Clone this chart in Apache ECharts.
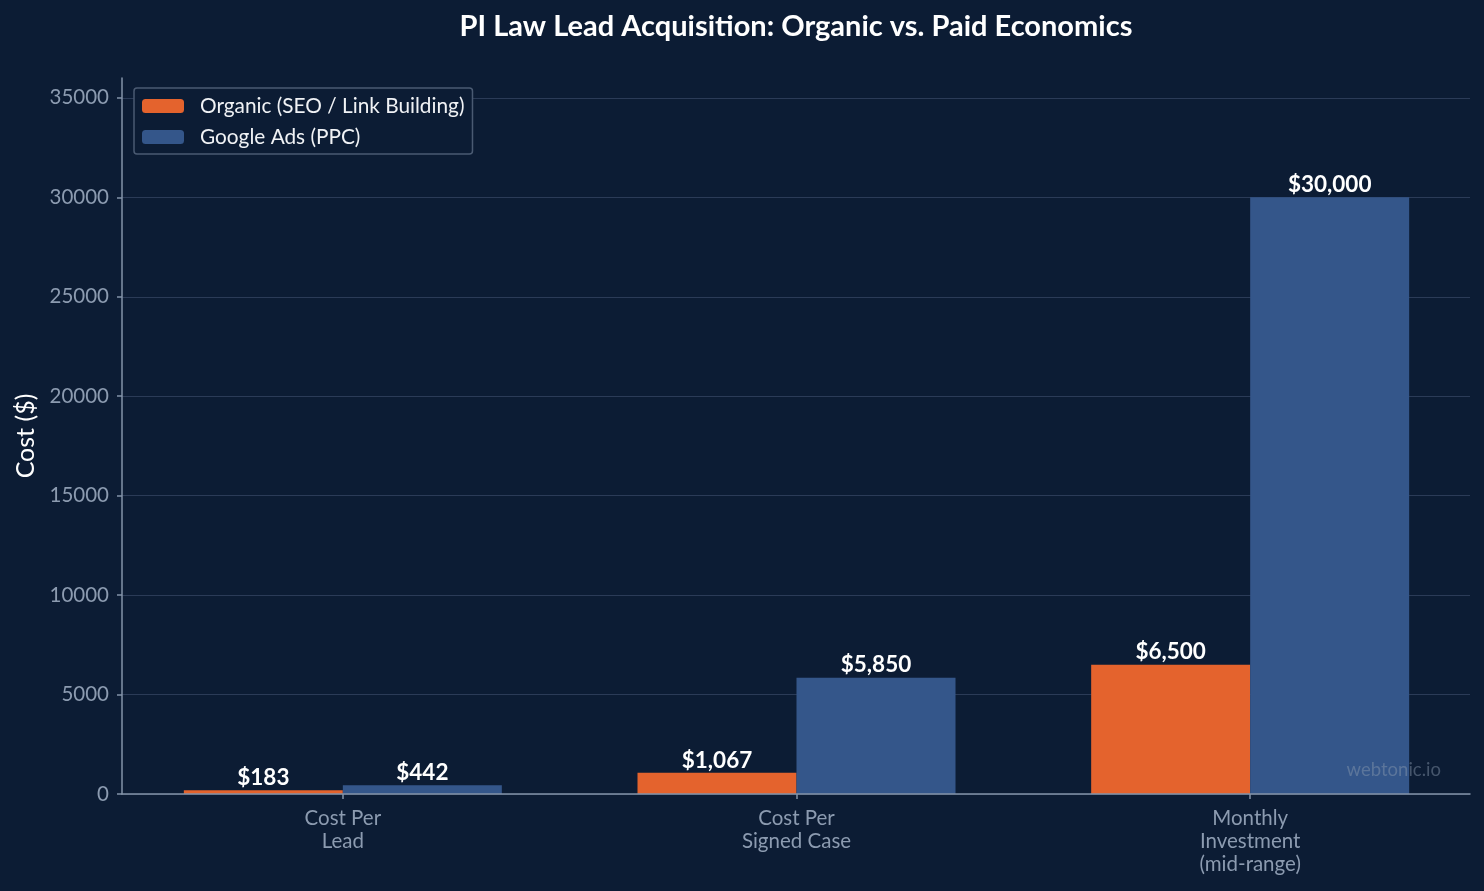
<!DOCTYPE html>
<html>
<head>
<meta charset="utf-8">
<script src="https://cdn.jsdelivr.net/npm/echarts@6/dist/echarts.min.js"></script>
<style>
html,body{margin:0;padding:0;background:#0c1c34;}
#chart{width:1484px;height:891px;}
</style>
</head>
<body>
<div id="chart"></div>
<script>
var categories = ['Cost Per\nLead', 'Cost Per\nSigned Case', 'Monthly\nInvestment\n(mid-range)'];
var organicValues = [183, 1067, 6500];
var ppcValues = [442, 5850, 30000];
var seriesNames = ['Organic (SEO / Link Building)', 'Google Ads (PPC)'];
var yMax = 36000;
var yTickMax = 35000;
var yInterval = 5000;

var FONT = 'Lato, "DejaVu Sans", sans-serif';
var chart = echarts.init(document.getElementById('chart'));

function fmt(v) { return '$' + v.toLocaleString('en-US'); }

var AXIS_COLOR = '#8393a8';
var TICK_TEXT = '#8c9bb0';
var gTop = 78, gBottom = 97;
var plotH = 891 - gTop - gBottom;
var top2 = 891 - gBottom - plotH * yTickMax / yMax;

var barLabel = {
  show: true, position: 'top', distance: 1,
  formatter: function (p) { return fmt(p.value); },
  color: '#ffffff', fontFamily: FONT, fontSize: 22.5, fontWeight: 'bold'
};

var option = {
  backgroundColor: '#0c1c34',
  animation: false,
  legend: {
    orient: 'vertical', left: 134, top: 88,
    data: seriesNames,
    itemWidth: 42, itemHeight: 14, itemGap: 9,
    padding: [7, 8, 6, 8],
    backgroundColor: '#0c1c34',
    borderColor: '#4a5a72', borderWidth: 1.5, borderRadius: 3,
    textStyle: { color: '#f0f2f5', fontFamily: FONT, fontSize: 20.8, lineHeight: 22, padding: [0, 0, 0, 11] }
  },
  grid: [
    { left: 122, right: 14, top: gTop, bottom: gBottom },
    { left: 116, right: 7, top: gTop, bottom: gBottom },
    { left: 122, right: 14, top: top2, bottom: gBottom }
  ],
  xAxis: [
    {
      type: 'category', gridIndex: 0, data: categories, z: 5,
      axisLine: { show: true, lineStyle: { color: AXIS_COLOR, width: 1.5 } },
      axisTick: { show: false }, axisLabel: { show: false }, splitLine: { show: false }
    },
    {
      type: 'category', gridIndex: 1, data: categories,
      axisLine: { show: false },
      axisTick: { show: true, alignWithLabel: true, length: 5, lineStyle: { color: AXIS_COLOR, width: 1.5 } },
      axisLabel: { color: TICK_TEXT, fontFamily: FONT, fontSize: 20.5, lineHeight: 23, margin: 13 },
      splitLine: { show: false }
    },
    { type: 'category', gridIndex: 2, data: categories, show: false }
  ],
  yAxis: [
    {
      type: 'value', gridIndex: 0, min: 0, max: yMax, z: 5,
      name: 'Cost ($)', nameLocation: 'middle', nameGap: 84, nameRotate: 90,
      nameTextStyle: { color: '#ffffff', fontFamily: FONT, fontSize: 25 },
      axisLine: { show: true, lineStyle: { color: AXIS_COLOR, width: 1.5 } },
      axisTick: { show: false }, axisLabel: { show: false }, splitLine: { show: false }
    },
    {
      type: 'value', gridIndex: 1, min: 0, max: yMax, show: false,
      splitLine: { show: false }
    },
    {
      type: 'value', gridIndex: 2, min: 0, max: yTickMax, interval: yInterval,
      axisLine: { show: false },
      axisTick: { show: true, length: 5, inside: false, lineStyle: { color: AXIS_COLOR, width: 1.5 } },
      axisLabel: { color: TICK_TEXT, fontFamily: FONT, fontSize: 20.5, margin: 13,
        formatter: function (v) { return String(v); } },
      splitLine: { show: true, lineStyle: { color: '#2b3b57', width: 1.2 } }
    }
  ],
  series: [
    {
      name: seriesNames[0], type: 'bar', xAxisIndex: 1, yAxisIndex: 1,
      data: organicValues, barWidth: 159, barGap: '0%',
      itemStyle: { color: '#e4632d' }, label: barLabel, z: 3
    },
    {
      name: seriesNames[1], type: 'bar', xAxisIndex: 1, yAxisIndex: 1,
      data: ppcValues, barWidth: 159, barGap: '0%',
      itemStyle: { color: '#34568a' }, label: barLabel, z: 3
    }
  ],
  graphic: [
    {
      type: 'text', x: 796, y: 12, z: 10,
      style: { text: 'PI Law Lead Acquisition: Organic vs. Paid Economics', fill: '#ffffff',
        font: 'bold 29px ' + FONT, textAlign: 'center', textVerticalAlign: 'top' }
    },
    {
      type: 'text', x: 1441, y: 761, z: 10,
      style: { text: 'webtonic.io', fill: 'rgba(140,155,176,0.45)', font: '18.5px ' + FONT,
        textAlign: 'right', textVerticalAlign: 'top' }
    }
  ]
};
chart.setOption(option);
</script>
</body>
</html>
